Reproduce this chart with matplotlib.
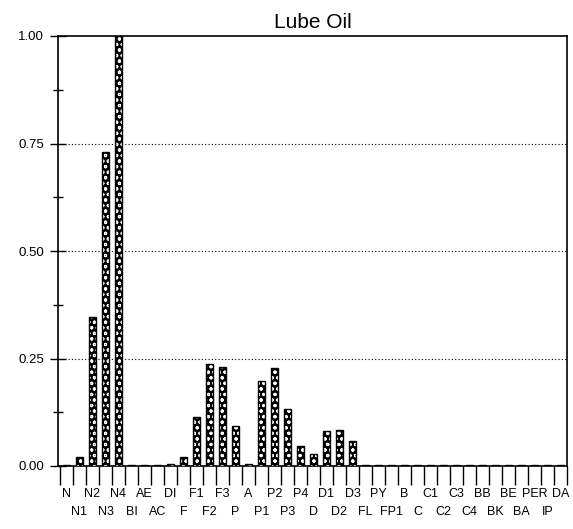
import matplotlib
matplotlib.use("Agg")
import matplotlib.pyplot as plt
import matplotlib.transforms as mtransforms
import numpy as np

plt.rcParams["font.family"] = ["Liberation Sans", "DejaVu Sans"]
plt.rcParams["hatch.linewidth"] = 0.8

# compounds along the x axis, in order
categories = ["N", "N1", "N2", "N3", "N4", "BI", "AE", "AC", "DI", "F",
              "F1", "F2", "F3", "P", "A", "P1", "P2", "P3", "P4", "D",
              "D1", "D2", "D3", "FL", "PY", "FP1", "B", "C", "C1", "C2",
              "C3", "C4", "BB", "BK", "BE", "BA", "PER", "IP", "DA"]

# normalised abundance
values = [0.002, 0.020, 0.346, 0.730, 1.000, 0.002, 0.002, 0.002, 0.004, 0.021,
          0.113, 0.238, 0.231, 0.093, 0.004, 0.197, 0.227, 0.133, 0.046, 0.027,
          0.081, 0.084, 0.057, 0.003, 0.002, 0.002, 0.002, 0.002, 0.002, 0.002,
          0.002, 0.002, 0.002, 0.002, 0.002, 0.002, 0.002, 0.002, 0.002]

yticks = [0.0, 0.25, 0.5, 0.75, 1.0]
ytick_labels = ["0.00", "0.25", "0.50", "0.75", "1.00"]

fig = plt.figure(figsize=(5.73, 5.29), dpi=100)
ax = fig.add_axes([58 / 573, 1 - 466 / 529, (567 - 58) / 573, (466 - 36) / 529])

x = np.arange(len(categories))

# dotted fill: black bars with white dot hatch, then a black outline
ax.bar(x, values, width=0.55, color="black", edgecolor="white", hatch="ooo",
       linewidth=0, zorder=3)
ax.bar(x, values, width=0.55, fill=False, edgecolor="black", linewidth=1.0,
       zorder=4)

# dotted reference lines
for y in [0.25, 0.5, 0.75]:
    ax.axhline(y, color="black", linestyle=(0, (1, 2)), linewidth=0.8, zorder=1)

ax.set_xlim(-0.65, 38.5)
ax.set_ylim(0, 1.0)

# y axis
ax.set_yticks(yticks)
ax.set_yticklabels(ytick_labels, fontsize=9.5)
ax.set_yticks(np.arange(0.125, 1.0, 0.25), minor=True)
ax.tick_params(axis="y", which="major", direction="inout", length=12, width=1, pad=4)
ax.tick_params(axis="y", which="minor", direction="inout", length=7, width=1)

# x axis: ticks between the bars, labels in two staggered rows
ax.set_xticks(x[::2])
ax.set_xticklabels(categories[::2], fontsize=9)
ax.set_xticks(np.arange(-0.5, len(categories), 1.0), minor=True)
ax.tick_params(axis="x", which="major", length=0, pad=16)
ax.tick_params(axis="x", which="minor", direction="out", length=14, width=1)

# second row of labels, one line below the first
low = mtransforms.offset_copy(ax.get_xaxis_transform(), fig=fig, x=0, y=-28.5,
                              units="points")
for i in x[1::2]:
    ax.text(i, 0, categories[i], transform=low, ha="center", va="top",
            fontsize=9)

for s in ax.spines.values():
    s.set_linewidth(1.2)

ax.set_title("Lube Oil", fontsize=15, pad=6)

fig.savefig("out.png", dpi=100)
